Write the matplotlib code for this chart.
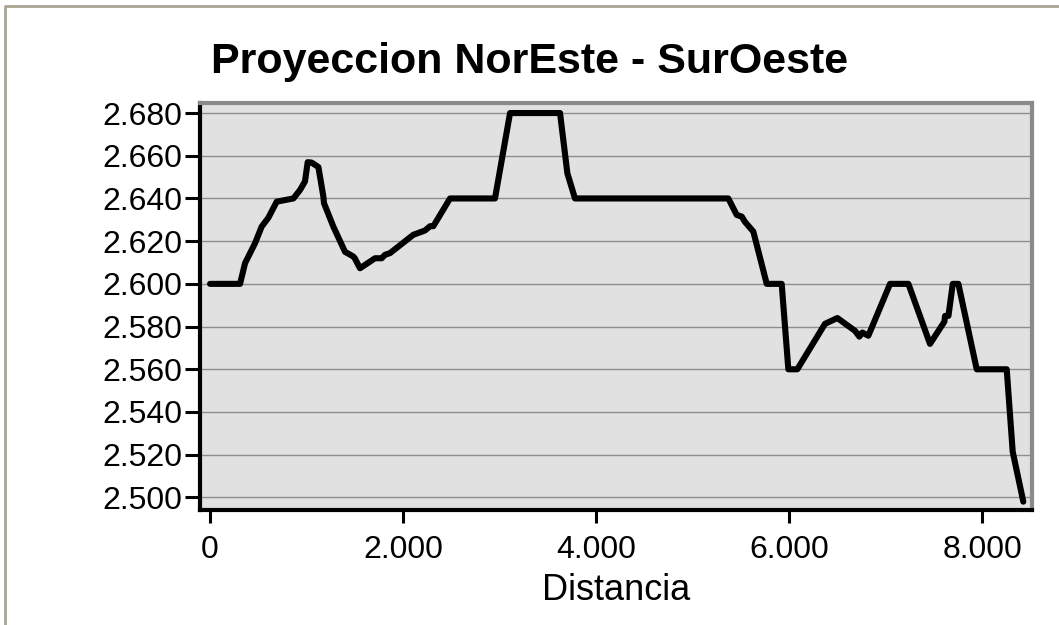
#! /usr/bin/env python3
'''
Perfil de elevacion: proyeccion NorEste - SurOeste
'''

import matplotlib
matplotlib.use('Agg')
import matplotlib.pyplot as plt
from matplotlib.lines import Line2D
from matplotlib.ticker import FuncFormatter


# distance along the profile (m)
distancia = [0, 311, 363, 466, 535, 605, 691, 864, 933, 984,
             1012, 1053, 1123, 1174, 1181, 1278, 1399, 1485, 1500, 1554,
             1710, 1779, 1813, 1865, 2107, 2228, 2280, 2314, 2487, 2953,
             3109, 3627, 3703, 3782, 5371, 5458, 5510, 5544, 5630, 5769,
             5924, 5993, 6086, 6373, 6501, 6684, 6729, 6760, 6822, 7047,
             7237, 7461, 7610, 7617, 7652, 7697, 7755, 7945, 8256, 8318,
             8428]

# elevation (m)
elevacion = [2600, 2600, 2609.7, 2619, 2626.8, 2631, 2638.5, 2640, 2644, 2648,
             2657, 2656.8, 2654.7, 2641, 2637.8, 2626.8, 2615, 2612.8, 2612, 2607.3,
             2612, 2612, 2613.6, 2614.4, 2623, 2625, 2627, 2627, 2640, 2640,
             2680, 2680, 2651.8, 2640, 2640, 2632.3, 2631.5, 2629, 2624.5, 2600,
             2600, 2560, 2560, 2581.3, 2584, 2578, 2575.3, 2577.2, 2575.7, 2600,
             2600, 2571.9, 2582.3, 2585, 2585, 2600, 2600, 2560, 2560, 2521.4,
             2498]

x_ticks = [0, 2000, 4000, 6000, 8000]
y_ticks = [2500, 2520, 2540, 2560, 2580, 2600, 2620, 2640, 2660, 2680]

titulo = 'Proyeccion NorEste - SurOeste'
etiqueta_x = 'Distancia'


def miles(v, pos):
    # thousands separator as a dot
    return '{:,.0f}'.format(v).replace(',', '.')


plt.rcParams['font.family'] = ['Liberation Sans', 'DejaVu Sans']

fig = plt.figure(figsize=(10.59, 6.25), dpi=100, facecolor='white')
ax = fig.add_axes([200/1059, 115/625, 832/1059, 407/625])
ax.set_facecolor('#e1e1e1')

# horizontal grid
ax.set_axisbelow(True)
ax.yaxis.grid(True, color='#8e8e8e', linewidth=1.0)

ax.plot(distancia, elevacion, color='black', linewidth=4.4,
        solid_capstyle='round', solid_joinstyle='round')

ax.set_xlim(-104, 8518)
ax.set_ylim(2494.1, 2684.7)
ax.set_xticks(x_ticks)
ax.set_yticks(y_ticks)
ax.xaxis.set_major_formatter(FuncFormatter(miles))
ax.yaxis.set_major_formatter(FuncFormatter(miles))

ax.tick_params(axis='both', labelsize=23, width=2.2, color='black')
ax.tick_params(axis='x', length=9, pad=9)
ax.tick_params(axis='y', length=11, pad=2)

for side in ['left', 'bottom']:
    ax.spines[side].set_color('black')
    ax.spines[side].set_linewidth(3)
for side in ['top', 'right']:
    ax.spines[side].set_color('#8a8a8a')
    ax.spines[side].set_linewidth(3)

ax.set_xlabel(etiqueta_x, fontsize=26, labelpad=6)

fig.text(0.5, 1 - 73/625, titulo, ha='center', va='baseline',
         fontsize=31, fontweight='bold')

# outer frame (open on right and bottom)
fig.add_artist(Line2D([4.5/1059, 4.5/1059, 1.0], [0.0, 1 - 5.5/625, 1 - 5.5/625],
                      transform=fig.transFigure, color='#a8a594', linewidth=2))

fig.savefig('out.png', dpi=100, facecolor='white')
